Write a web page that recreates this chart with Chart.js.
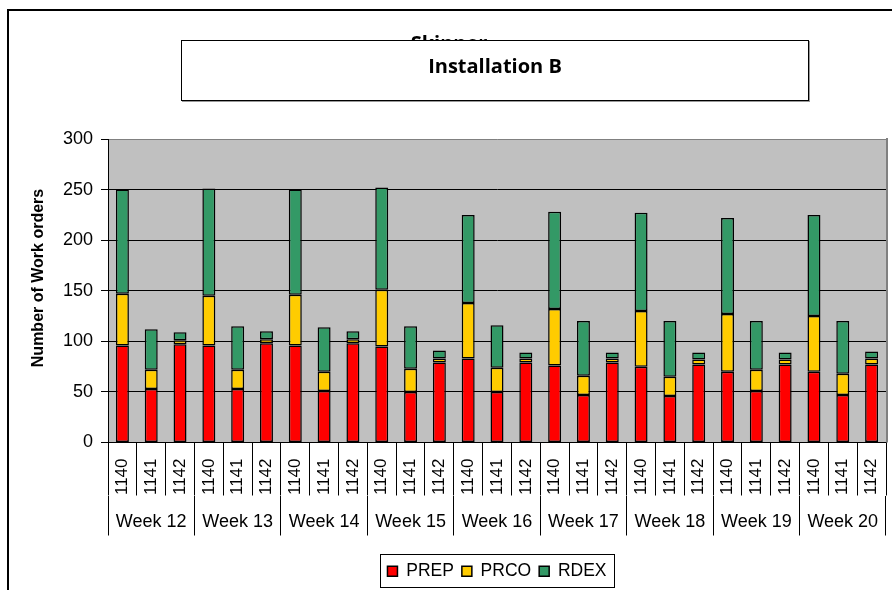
<!DOCTYPE html>
<html>
<head>
<meta charset="utf-8">
<script src="https://cdn.jsdelivr.net/npm/chart.js@4/dist/chart.umd.min.js"></script>
<style>
  html, body { margin: 0; padding: 0; background: #fff; }
  #wrap { position: relative; width: 892px; height: 590px; overflow: hidden; background: #fff; }
  #c { position: absolute; left: 0; top: 0; }
  #frame { position: absolute; left: 7px; top: 9px; width: 1000px; height: 1000px; border-top: 2px solid #000; border-left: 2px solid #000; pointer-events: none; }
  #hidden { position: absolute; left: 349px; top: 33px; width: 200px; text-align: center; font: bold 20px "Open Sans", sans-serif; line-height: 20px; color: #000; }
  #box { position: absolute; left: 181px; top: 40px; width: 628px; height: 61px; box-sizing: border-box; border: 1px solid #000; background: #fff; box-shadow: 1px 1px 0 #999; }
  #sub { position: absolute; left: 181px; top: 56px; width: 628px; text-align: center; font: bold 20px "Open Sans", sans-serif; line-height: 20px; color: #000; }
</style>
</head>
<body>
<div id="wrap">
  <canvas id="c" width="892" height="590"></canvas>
  <div id="frame"></div>
  <div id="hidden">Skinner</div>
  <div id="box"></div>
  <div id="sub">Installation B</div>
</div>
<script>
// ---- data ----
const weeks = ['Week 12','Week 13','Week 14','Week 15','Week 16','Week 17','Week 18','Week 19','Week 20'];
const subCats = ['1140','1141','1142'];
const PREP = [96,53,97, 96,53,98, 96,51,98, 95,50,79, 83,50,79, 76,47,79, 75,46,77, 70,51,77, 70,47,77];
const PRCO = [51,19,4, 49,19,4, 50,19,4, 56,23,4, 55,24,4, 56,19,4, 55,19,5, 57,21,5, 55,21,6];
const RDEX = [103,40,8, 106,43,8, 104,44,8, 101,42,8, 87,42,6, 96,54,6, 97,55,7, 95,48,7, 100,52,7];
const yTicks = [0,50,100,150,200,250,300];
const yTitle = 'Number of Work orders';

const categories = weeks.flatMap(() => subCats);
const FONT = '"Liberation Sans", Arial, sans-serif';

const decoPlugin = {
  id: 'deco',
  beforeDraw(chart) {
    const {ctx, chartArea: a} = chart;
    ctx.save();
    ctx.fillStyle = '#C0C0C0';
    ctx.fillRect(a.left, a.top, a.right - a.left, a.bottom - a.top);
    ctx.restore();
  },
  afterDraw(chart) {
    const {ctx, chartArea: a} = chart;
    ctx.save();
    // right plot border
    ctx.strokeStyle = '#808080';
    ctx.lineWidth = 2;
    ctx.beginPath();
    ctx.moveTo(a.right + 1, a.top - 1);
    ctx.lineTo(a.right + 1, a.bottom);
    ctx.stroke();
    // y axis title
    ctx.fillStyle = '#000';
    ctx.font = 'bold 16px ' + FONT;
    ctx.textAlign = 'center';
    ctx.textBaseline = 'middle';
    ctx.translate(39, 278);
    ctx.rotate(-Math.PI / 2);
    ctx.fillText(yTitle, 0, 0);
    ctx.restore();
    // legend frame
    const lg = chart.legend;
    if (lg && lg.legendHitBoxes && lg.legendHitBoxes.length) {
      const hb = lg.legendHitBoxes;
      const first = hb[0], last = hb[hb.length - 1];
      const cy = first.top + first.height / 2;
      const l = Math.round(first.left - 7) + 0.5;
      const r = Math.round(last.left + last.width + 7) + 0.5;
      ctx.save();
      ctx.strokeStyle = '#000';
      ctx.lineWidth = 1;
      ctx.strokeRect(l, Math.round(cy - 17) + 0.5, r - l, 33);
      ctx.restore();
    }
  }
};

new Chart(document.getElementById('c'), {
  type: 'bar',
  data: {
    labels: categories,
    datasets: [
      { label: 'PREP', data: PREP, backgroundColor: '#FF0000' },
      { label: 'PRCO', data: PRCO, backgroundColor: '#FFCC00' },
      { label: 'RDEX', data: RDEX, backgroundColor: '#339966' }
    ].map(d => Object.assign(d, {
      xAxisID: 'x', borderColor: '#000', borderWidth: 1.5, borderSkipped: false,
      barPercentage: 0.45, categoryPercentage: 1
    }))
  },
  options: {
    responsive: false,
    animation: false,
    devicePixelRatio: 1,
    layout: { padding: { left: 8, right: 6, top: 139, bottom: 0 } },
    plugins: {
      title: { display: false },
      tooltip: { enabled: false },
      legend: {
        position: 'bottom',
        fullSize: false,
        labels: {
          boxWidth: 10, boxHeight: 10, padding: 8, color: '#000',
          font: { size: 17.5, family: FONT }
        }
      }
    },
    scales: {
      y: {
        stacked: true,
        min: 0, max: 300,
        afterBuildTicks: s => { s.ticks = yTicks.map(v => ({ value: v })); },
        afterFit: s => { s.width = 100; },
        ticks: { color: '#000', padding: 8, font: { size: 18, family: FONT } },
        grid: {
          color: c => (c.tick && c.tick.value === 300) ? '#808080' : '#000',
          tickColor: '#000', tickLength: 7, lineWidth: 1
        },
        border: { color: '#000' },
        title: { display: false }
      },
      x: {
        stacked: true,
        position: 'bottom',
        offset: true,
        afterFit: s => { s.height = 53; },
        ticks: {
          color: '#000', autoSkip: false, minRotation: 90, maxRotation: 90,
          padding: -37, font: { size: 17, family: FONT }
        },
        grid: { offset: true, drawOnChartArea: false, tickLength: 53, color: '#000' },
        border: { color: '#000' }
      },
      x2: {
        type: 'category',
        labels: weeks,
        position: 'bottom',
        offset: true,
        afterFit: s => { s.height = 59; },
        ticks: {
          color: '#000', autoSkip: false, maxRotation: 0, minRotation: 0,
          padding: -23.8, font: { size: 18, family: FONT }
        },
        grid: { offset: true, drawOnChartArea: false, tickLength: 40, color: '#000' },
        border: { display: false }
      }
    }
  },
  plugins: [decoPlugin]
});
</script>
</body>
</html>
